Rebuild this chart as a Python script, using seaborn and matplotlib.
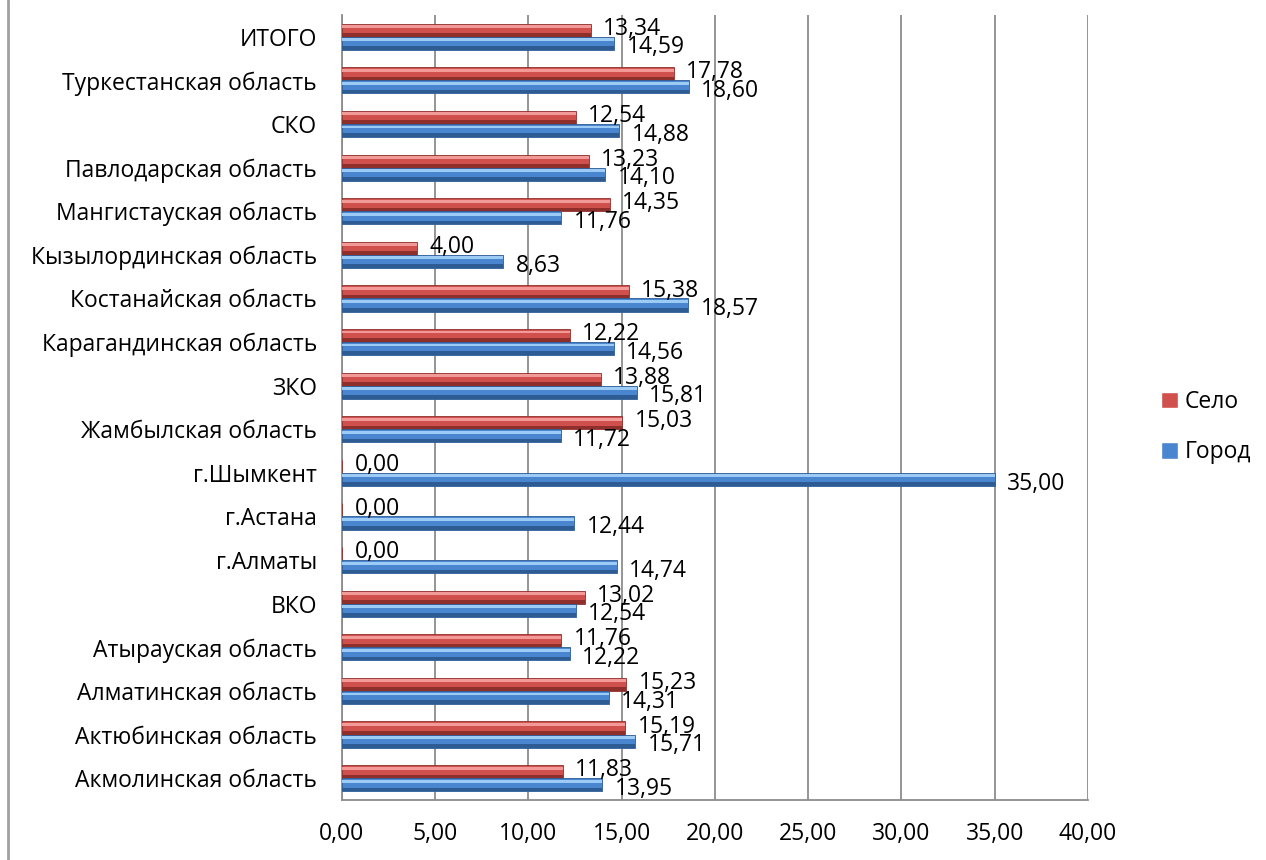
import pandas as pd
import numpy as np
import matplotlib
matplotlib.use('Agg')
import matplotlib.pyplot as plt
import seaborn as sns
from matplotlib.patches import Rectangle
from matplotlib.lines import Line2D

# Data (top to bottom as in the chart)
regions = ['ИТОГО', 'Туркестанская область', 'СКО', 'Павлодарская область',
           'Мангистауская область', 'Кызылординская область', 'Костанайская область',
           'Карагандинская область', 'ЗКО', 'Жамбылская область', 'г.Шымкент',
           'г.Астана', 'г.Алматы', 'ВКО', 'Атырауская область', 'Алматинская область',
           'Актюбинская область', 'Акмолинская область']
selo = [13.34, 17.78, 12.54, 13.23, 14.35, 4.00, 15.38, 12.22, 13.88, 15.03,
        0.00, 0.00, 0.00, 13.02, 11.76, 15.23, 15.19, 11.83]
gorod = [14.59, 18.60, 14.88, 14.10, 11.76, 8.63, 18.57, 14.56, 15.81, 11.72,
         35.00, 12.44, 14.74, 12.54, 12.22, 14.31, 15.71, 13.95]
series = ['Село', 'Город']
x_ticks = [0, 5, 10, 15, 20, 25, 30, 35, 40]

df = pd.DataFrame({
    'region': regions * 2,
    'value': selo + gorod,
    'series': ['Село'] * len(regions) + ['Город'] * len(regions),
})

def fmt(v):
    return f'{v:.2f}'.replace('.', ',')

sns.set_style('white')
plt.rcParams['font.family'] = ['Open Sans', 'DejaVu Sans']
plt.rcParams['font.size'] = 16.5
plt.rcParams['text.color'] = 'black'
plt.rcParams['xtick.labelcolor'] = 'black'
plt.rcParams['ytick.labelcolor'] = 'black'

colors = {'Село': '#D0504D', 'Город': '#4A86CF'}
light = {'Село': '#F29A98', 'Город': '#9CCBF5'}
dark = {'Село': '#8E2F2C', 'Город': '#2D5C95'}

fig = plt.figure(figsize=(12.66, 8.60), dpi=100)
ax = fig.add_axes([0.2701, 0.0698, 0.5893, 0.9128])

sns.barplot(data=df, y='region', x='value', hue='series', hue_order=series,
            order=regions, palette=colors, orient='h', width=0.6,
            saturation=1, errorbar=None, ax=ax, zorder=3)

# cylinder-like shading on each bar
for cont, name in zip(ax.containers, series):
    for p in cont.patches:
        x0, y0, w, h = p.get_x(), p.get_y(), p.get_width(), p.get_height()
        p.set_edgecolor(dark[name])
        p.set_linewidth(0.6)
        if w <= 0:
            continue
        ax.add_patch(Rectangle((x0, y0 + h * 0.12), w, h * 0.22,
                               color=light[name], lw=0, zorder=4))
        ax.add_patch(Rectangle((x0, y0 + h * 0.72), w, h * 0.28,
                               color=dark[name], lw=0, zorder=4))

# data labels
for cont, vals, dy in zip(ax.containers, [selo, gorod], [1, -3]):
    texts = ax.bar_label(cont, labels=[fmt(v) for v in vals], padding=9,
                         fontsize=16.5, zorder=6)
    for t in texts:
        t.xyann = (9, dy)

ax.set_xlim(0, 40)
ax.set_xticks(x_ticks)
ax.set_xticklabels([fmt(v) for v in x_ticks])
ax.set_xlabel('')
ax.set_ylabel('')
ax.set_ylim(len(regions) - 0.5, -0.5)

ax.grid(axis='x', color='#8C8C8C', lw=1.3, zorder=0)
ax.set_axisbelow(True)
for s in ['top', 'right']:
    ax.spines[s].set_visible(False)
for s in ['left', 'bottom']:
    ax.spines[s].set_color('#8C8C8C')
    ax.spines[s].set_linewidth(1.3)

ax.set_yticks(np.arange(len(regions) + 1) - 0.5, minor=True)
ax.tick_params(axis='y', which='major', length=0, pad=18, labelsize=16.5)
ax.tick_params(axis='y', which='minor', length=8, color='#8C8C8C', width=1.3)
ax.tick_params(axis='x', which='major', length=7, color='#8C8C8C', width=1.3,
               pad=9, labelsize=16.5)

handles, labels = ax.get_legend_handles_labels()
ax.legend(handles, labels, loc='center left', bbox_to_anchor=(1.07, 0.475),
          frameon=False, fontsize=16.5, handlelength=0.75, handleheight=0.75,
          handletextpad=0.3, labelspacing=1.15)

fig.add_artist(Line2D([0.0065, 0.0065], [0, 1], color='#A0A0A0', lw=2))

fig.savefig('out.png', dpi=100)
